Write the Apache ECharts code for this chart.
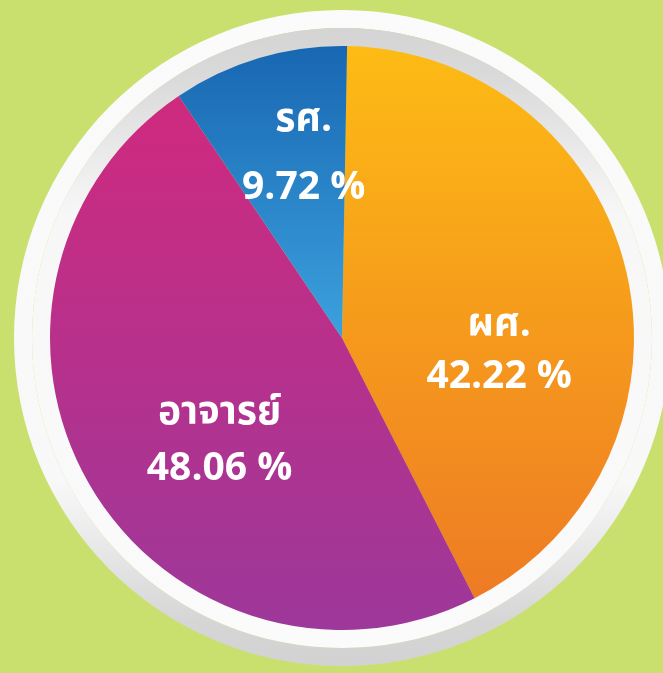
<!DOCTYPE html>
<html><head><meta charset="utf-8">
<script src="https://cdn.jsdelivr.net/npm/echarts@6/dist/echarts.min.js"></script>
<style>html,body{margin:0;padding:0;background:#c9e06f;} #c{width:663px;height:673px;}</style>
</head><body><div id="c"></div>
<script>
// Data
const categories = ['ผศ.', 'อาจารย์', 'รศ.'];
const values = [42.22, 48.06, 9.72];

// Styles
const topColors = ['#fdbb14', '#cf2a7e', '#1867b2'];
const bottomColors = ['#ee7b24', '#9d389a', '#3ca1de'];
const labelNudge = [[12, 46], [6, 27], [4, -41]];
const labelLineHeight = [52, 56, 68];

const cx = 342, cy = 338, R = 292;
const chart = echarts.init(document.getElementById('c'), null, {renderer: 'canvas'});
const G = echarts.graphic.LinearGradient;

const option = {
  backgroundColor: '#c9e06f',
  animation: false,
  graphic: {
    elements: [
      {type: 'ring', z: -10, shape: {cx: cx, cy: cy, r: 328, r0: 310},
       style: {fill: new G(0, 0, 0, 1, [{offset: 0, color: '#fbfbfb'}, {offset: 0.72, color: '#f8f8f8'}, {offset: 0.93, color: '#d6d6d6'}, {offset: 1, color: '#d2d2d2'}])}},
      {type: 'ring', z: -10, shape: {cx: cx, cy: cy, r: 310, r0: 290},
       style: {fill: new G(0, 0, 0, 1, [{offset: 0, color: '#d4d4d4'}, {offset: 0.08, color: '#dadada'}, {offset: 0.3, color: '#f7f7f7'}, {offset: 1, color: '#fbfbfb'}])}}
    ]
  },
  series: [{
    type: 'pie',
    center: [cx, cy],
    radius: R,
    startAngle: 89,
    clockwise: true,
    silent: true,
    itemStyle: {borderWidth: 0},
    label: {
      show: true,
      position: 'inside',
      color: '#ffffff',
      fontFamily: '"Open Sans", "Noto Sans Thai", "Noto Sans", sans-serif',
      fontWeight: 'bold',
      fontSize: 39,
      formatter: p => p.name + '\n' + p.value.toFixed(2) + ' %'
    },
    labelLine: {show: false},
    labelLayout: p => ({dx: labelNudge[p.dataIndex][0], dy: labelNudge[p.dataIndex][1]}),
    data: categories.map((name, i) => ({
      name: name,
      value: values[i],
      label: {lineHeight: labelLineHeight[i]},
      itemStyle: {color: new G(0, 0, 0, 1, [{offset: 0, color: topColors[i]}, {offset: 1, color: bottomColors[i]}])}
    }))
  }]
};
chart.setOption(option);
</script>
</body></html>
